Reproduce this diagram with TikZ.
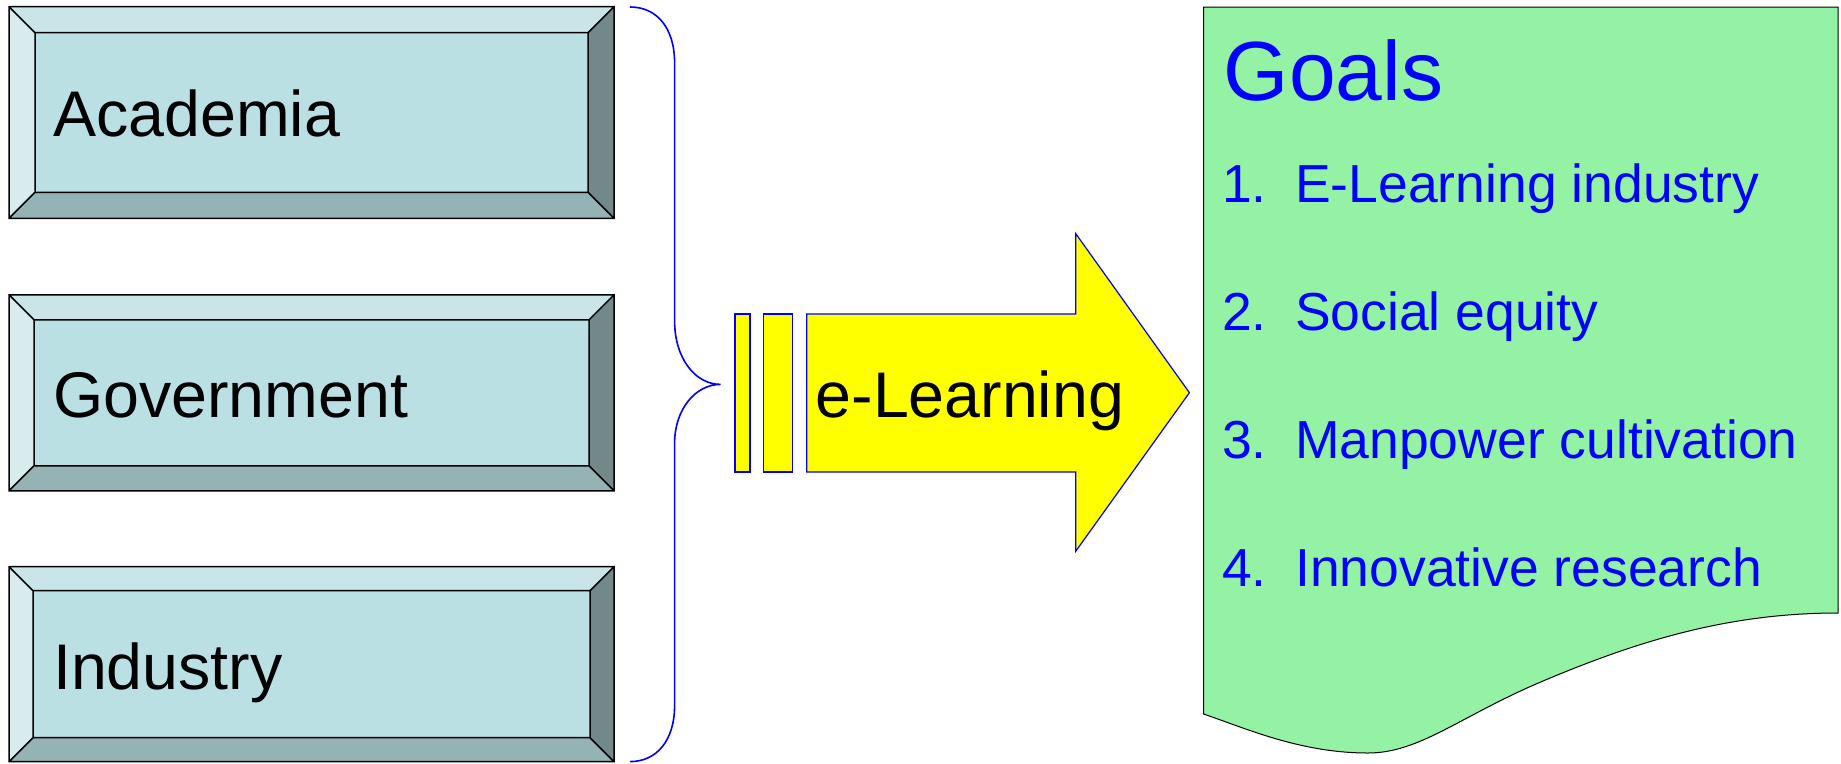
\documentclass[tikz,border=0pt]{standalone}
\usepackage{fontspec}
\setmainfont{Liberation Sans}
\usetikzlibrary{positioning,calc}

\definecolor{faceblue}{HTML}{BBE0E3}
\definecolor{topbevel}{HTML}{C9E5E8}
\definecolor{leftbevel}{HTML}{D8ECEE}
\definecolor{bottombevel}{HTML}{95B2B4}
\definecolor{rightbevel}{HTML}{728889}
\definecolor{goalgreen}{HTML}{94F2A4}
\definecolor{arrowyellow}{HTML}{FFFF00}
\definecolor{linkblue}{HTML}{0000FF}

\tikzset{
  bevel box/.style={rectangle, fill=faceblue, minimum width=605pt, inner sep=0pt, outer sep=0pt},
  box text/.style={anchor=base west, inner sep=0pt, font=\fontsize{64.5}{70}\selectfont},
  bar/.style={rectangle, draw=linkblue, fill=arrowyellow, line width=1.2pt, minimum height=158pt, inner sep=0pt, outer sep=0pt},
  goal text/.style={anchor=base west, inner sep=0pt, text=linkblue, font=\fontsize{53.5}{60}\selectfont},
}

% sides of a bevel box: #1 node, #2 bevel width
\newcommand{\bevelsides}[2]{
  \coordinate (#1nw) at ($(#1.north west)+(#2,#2)$);
  \coordinate (#1ne) at ($(#1.north east)+(-#2,#2)$);
  \coordinate (#1sw) at ($(#1.south west)+(#2,-#2)$);
  \coordinate (#1se) at ($(#1.south east)+(-#2,-#2)$);
  \fill[topbevel] (#1.north west) -- (#1.north east) -- (#1ne) -- (#1nw) -- cycle;
  \fill[leftbevel] (#1.north west) -- (#1nw) -- (#1sw) -- (#1.south west) -- cycle;
  \fill[bottombevel] (#1.south west) -- (#1sw) -- (#1se) -- (#1.south east) -- cycle;
  \fill[rightbevel] (#1.north east) -- (#1.south east) -- (#1se) -- (#1ne) -- cycle;
  \draw[line width=1.5pt] (#1nw) rectangle (#1se)
    (#1.north west) -- (#1nw) (#1.north east) -- (#1ne)
    (#1.south west) -- (#1sw) (#1.south east) -- (#1se)
    (#1.north west) rectangle (#1.south east);
}

\begin{document}
\begin{tikzpicture}[x=1pt,y=-1pt]
\useasboundingbox (0,0) rectangle (1841,763);

%Boxes
\node (acad) [bevel box, minimum height=211.6pt] at (311.5,112.5) {};
\bevelsides{acad}{26}
\node (acadtxt) [box text] at ($(acad.west)+(44,24.2)$) {Academia};

\node (gov) [bevel box, minimum height=196pt] at (311.5,392.8) {};
\bevelsides{gov}{25}
\node (govtxt) [box text] at ($(gov.west)+(44,24.5)$) {Government};

\node (ind) [bevel box, minimum height=195pt] at (311.5,664.2) {};
\bevelsides{ind}{24}
\node (indtxt) [box text] at ($(ind.west)+(44,24.8)$) {Industry};

%Brace
\draw[linkblue, line width=1.6pt] (630,7) .. controls (657,7) and (674.6,28) .. (674.6,63)
  -- (674.6,321) .. controls (674.6,358) and (695,384.4) .. (720.5,384.4)
  .. controls (695,384.4) and (674.6,410) .. (674.6,443)
  -- (674.6,705.6) .. controls (674.6,740) and (657,761.6) .. (630,761.6);

%Arrow
\node (bar1) [bar, minimum width=15pt] at (742.5,393) {};
\node (bar2) [bar, minimum width=28.7pt, right=13.8pt of bar1] {};
\draw[linkblue, fill=arrowyellow, line width=1.2pt] (806.7,314) -- (1075.7,314) -- (1075.7,233.6)
  -- (1189.4,392.7) -- (1075.7,551.3) -- (1075.7,472) -- (806.7,472) -- cycle;
\node (elearn) [box text] at (815.5,417.5) {e-Learning};

%Goals
\draw[fill=goalgreen, line width=1pt] (1203.5,7) -- (1838,7) -- (1838,613)
  .. controls (1730,613) and (1640,640) .. (1543,681)
  .. controls (1460,716) and (1420,753) .. (1368,753)
  .. controls (1300,753) and (1245,728) .. (1203.5,714) -- cycle;
\node (goals) [goal text, font=\fontsize{84}{90}\selectfont] at (1223.5,100.7) {Goals};
\node (g1) [goal text] at (1222,202) {\makebox[73pt][l]{1.}E-Learning industry};
\node (g2) [below=128pt of g1.base west, goal text] {\makebox[73pt][l]{2.}Social equity};
\node (g3) [below=128pt of g2.base west, goal text] {\makebox[73pt][l]{3.}Manpower cultivation};
\node (g4) [below=128pt of g3.base west, goal text] {\makebox[73pt][l]{4.}Innovative research};
\end{tikzpicture}
\end{document}
